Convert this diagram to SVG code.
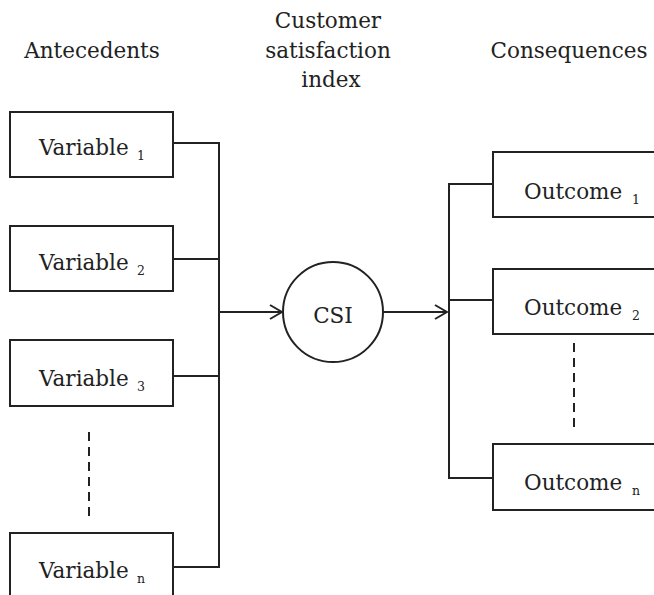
<svg xmlns="http://www.w3.org/2000/svg" width="654" height="595" viewBox="0 0 654 595">
<defs>
<style>
.box{fill:#fff;stroke:#222;stroke-width:2}
.ln{fill:none;stroke:#222;stroke-width:2}
.dash{fill:none;stroke:#222;stroke-width:2;stroke-dasharray:9,6}
text{font-family:"DejaVu Serif","Liberation Serif",serif;fill:#222}
.t{font-size:21.5px}
.h{font-size:21.5px;text-anchor:middle}
.s{font-size:12.5px}
</style>
<marker id="arr" viewBox="0 0 14 16" refX="13" refY="8" markerWidth="14" markerHeight="16" markerUnits="userSpaceOnUse" orient="auto">
<path d="M1,1 L13,8 L1,15" fill="none" stroke="#222" stroke-width="2"/>
</marker>
</defs>
<rect width="654" height="595" fill="#fff"/>
<g id="headings">
<text class="h" x="92" y="58">Antecedents</text>
<text class="h" x="328" y="28">Customer</text>
<text class="h" x="328" y="58">satisfaction</text>
<text class="h" x="331" y="87">index</text>
<text class="h" x="569" y="58">Consequences</text>
</g>
<g id="connectors">
<path class="ln" d="M173,143 H219 V567 H173"/>
<path class="ln" d="M173,259 H219"/>
<path class="ln" d="M173,376 H219"/>
<path class="ln" d="M219,312 H282" marker-end="url(#arr)"/>
<path class="ln" d="M383,312 H447" marker-end="url(#arr)"/>
<path class="ln" d="M493,184 H449 V478 H493"/>
<path class="ln" d="M449,300 H493"/>
<path class="dash" d="M89,432 V517"/>
<path class="dash" d="M574,343 V427"/>
</g>
<g id="var1"><rect class="box" x="10" y="112" width="163" height="65"/><text class="t" x="39" y="155">Variable</text><text class="s" x="137" y="160">1</text></g>
<g id="var2"><rect class="box" x="10" y="226" width="163" height="65"/><text class="t" x="39" y="270">Variable</text><text class="s" x="137" y="275">2</text></g>
<g id="var3"><rect class="box" x="10" y="340" width="163" height="66"/><text class="t" x="39" y="386">Variable</text><text class="s" x="137" y="391">3</text></g>
<g id="varn"><rect class="box" x="10" y="533" width="163" height="70"/><text class="t" x="39" y="578">Variable</text><text class="s" x="137" y="583">n</text></g>
<g id="csi"><circle class="box" cx="333" cy="312" r="50"/><text class="t" x="333" y="323" text-anchor="middle">CSI</text></g>
<g id="out1"><rect class="box" x="493" y="152" width="170" height="65"/><text class="t" x="524" y="199">Outcome</text><text class="s" x="632" y="204">1</text></g>
<g id="out2"><rect class="box" x="493" y="269" width="170" height="65"/><text class="t" x="524" y="315">Outcome</text><text class="s" x="632" y="320">2</text></g>
<g id="outn"><rect class="box" x="493" y="444" width="170" height="66"/><text class="t" x="524" y="490">Outcome</text><text class="s" x="632" y="495">n</text></g>
</svg>
